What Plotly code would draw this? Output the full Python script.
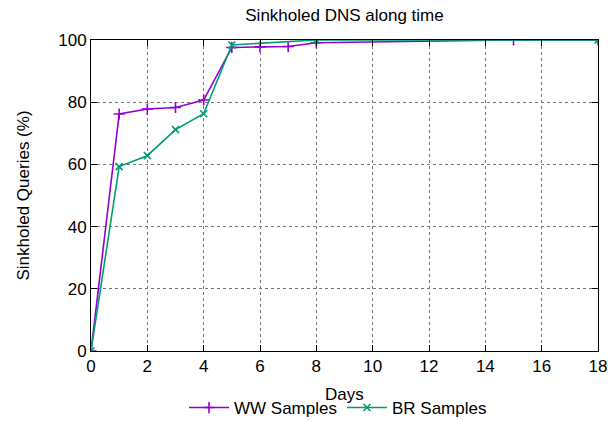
import plotly.graph_objects as go

ww_days = [0, 1, 2, 3, 4, 5, 6, 7, 8, 15, 18]
ww_vals = [0, 76.2, 77.8, 78.3, 80.7, 97.6, 97.8, 97.9, 99.1, 100, 100]
br_days = [0, 1, 2, 3, 4, 5, 8, 18]
br_vals = [0, 59.3, 62.8, 71.2, 76.3, 98.4, 100, 100]

x_ticks = list(range(0, 19, 2))
y_ticks = list(range(0, 101, 20))

FONT = "Liberation Sans, Arial, sans-serif"
FS = 17

fig = go.Figure()
fig.add_trace(go.Scatter(
    x=ww_days, y=ww_vals, mode="lines+markers", name="WW Samples",
    line=dict(color="#9400D3", width=1.6),
    marker=dict(symbol="cross-thin", size=8, line=dict(color="#9400D3", width=1.6)),
))
fig.add_trace(go.Scatter(
    x=br_days, y=br_vals, mode="lines+markers", name="BR Samples",
    line=dict(color="#009E73", width=1.6),
    marker=dict(symbol="x-thin", size=7, line=dict(color="#009E73", width=1.6)),
))

axis_common = dict(
    showline=True, linecolor="black", linewidth=1, mirror="ticks",
    ticks="inside", ticklen=6, tickcolor="black", tickwidth=1,
    showgrid=True, gridcolor="#777", griddash="dot", gridwidth=1,
    zeroline=False, automargin=False,
    tickfont=dict(family=FONT, size=FS, color="black"),
)

fig.update_layout(
    width=608, height=421,
    margin=dict(l=91, r=10, t=40, b=70),
    paper_bgcolor="white", plot_bgcolor="white",
    font=dict(family=FONT, size=FS, color="black"),
    title=dict(text="Sinkholed DNS along time", x=(91 + 598) / 2 / 608, xanchor="center",
               y=1 - 15 / 421, yanchor="middle", font=dict(size=FS)),
    xaxis=dict(range=[0, 18], tickvals=x_ticks, **axis_common),
    yaxis=dict(range=[0, 100], tickvals=y_ticks,
               title=dict(text="Sinkholed Queries (%)", standoff=24, font=dict(size=FS)), **axis_common),
    legend=dict(orientation="h", xref="container", x=338 / 608, xanchor="center",
                yref="container", y=1 - 408 / 421, yanchor="middle",
                font=dict(size=FS), itemwidth=40, bgcolor="rgba(0,0,0,0)"),
    annotations=[dict(text="Days", xref="paper", yref="paper", x=0.5, y=-(394 - 351) / 311,
                      xanchor="center", yanchor="middle", showarrow=False,
                      font=dict(family=FONT, size=FS, color="black"))],
)

fig.write_html("out.html", post_script="document.body.style.margin='0';",
               config={"displayModeBar": False})
